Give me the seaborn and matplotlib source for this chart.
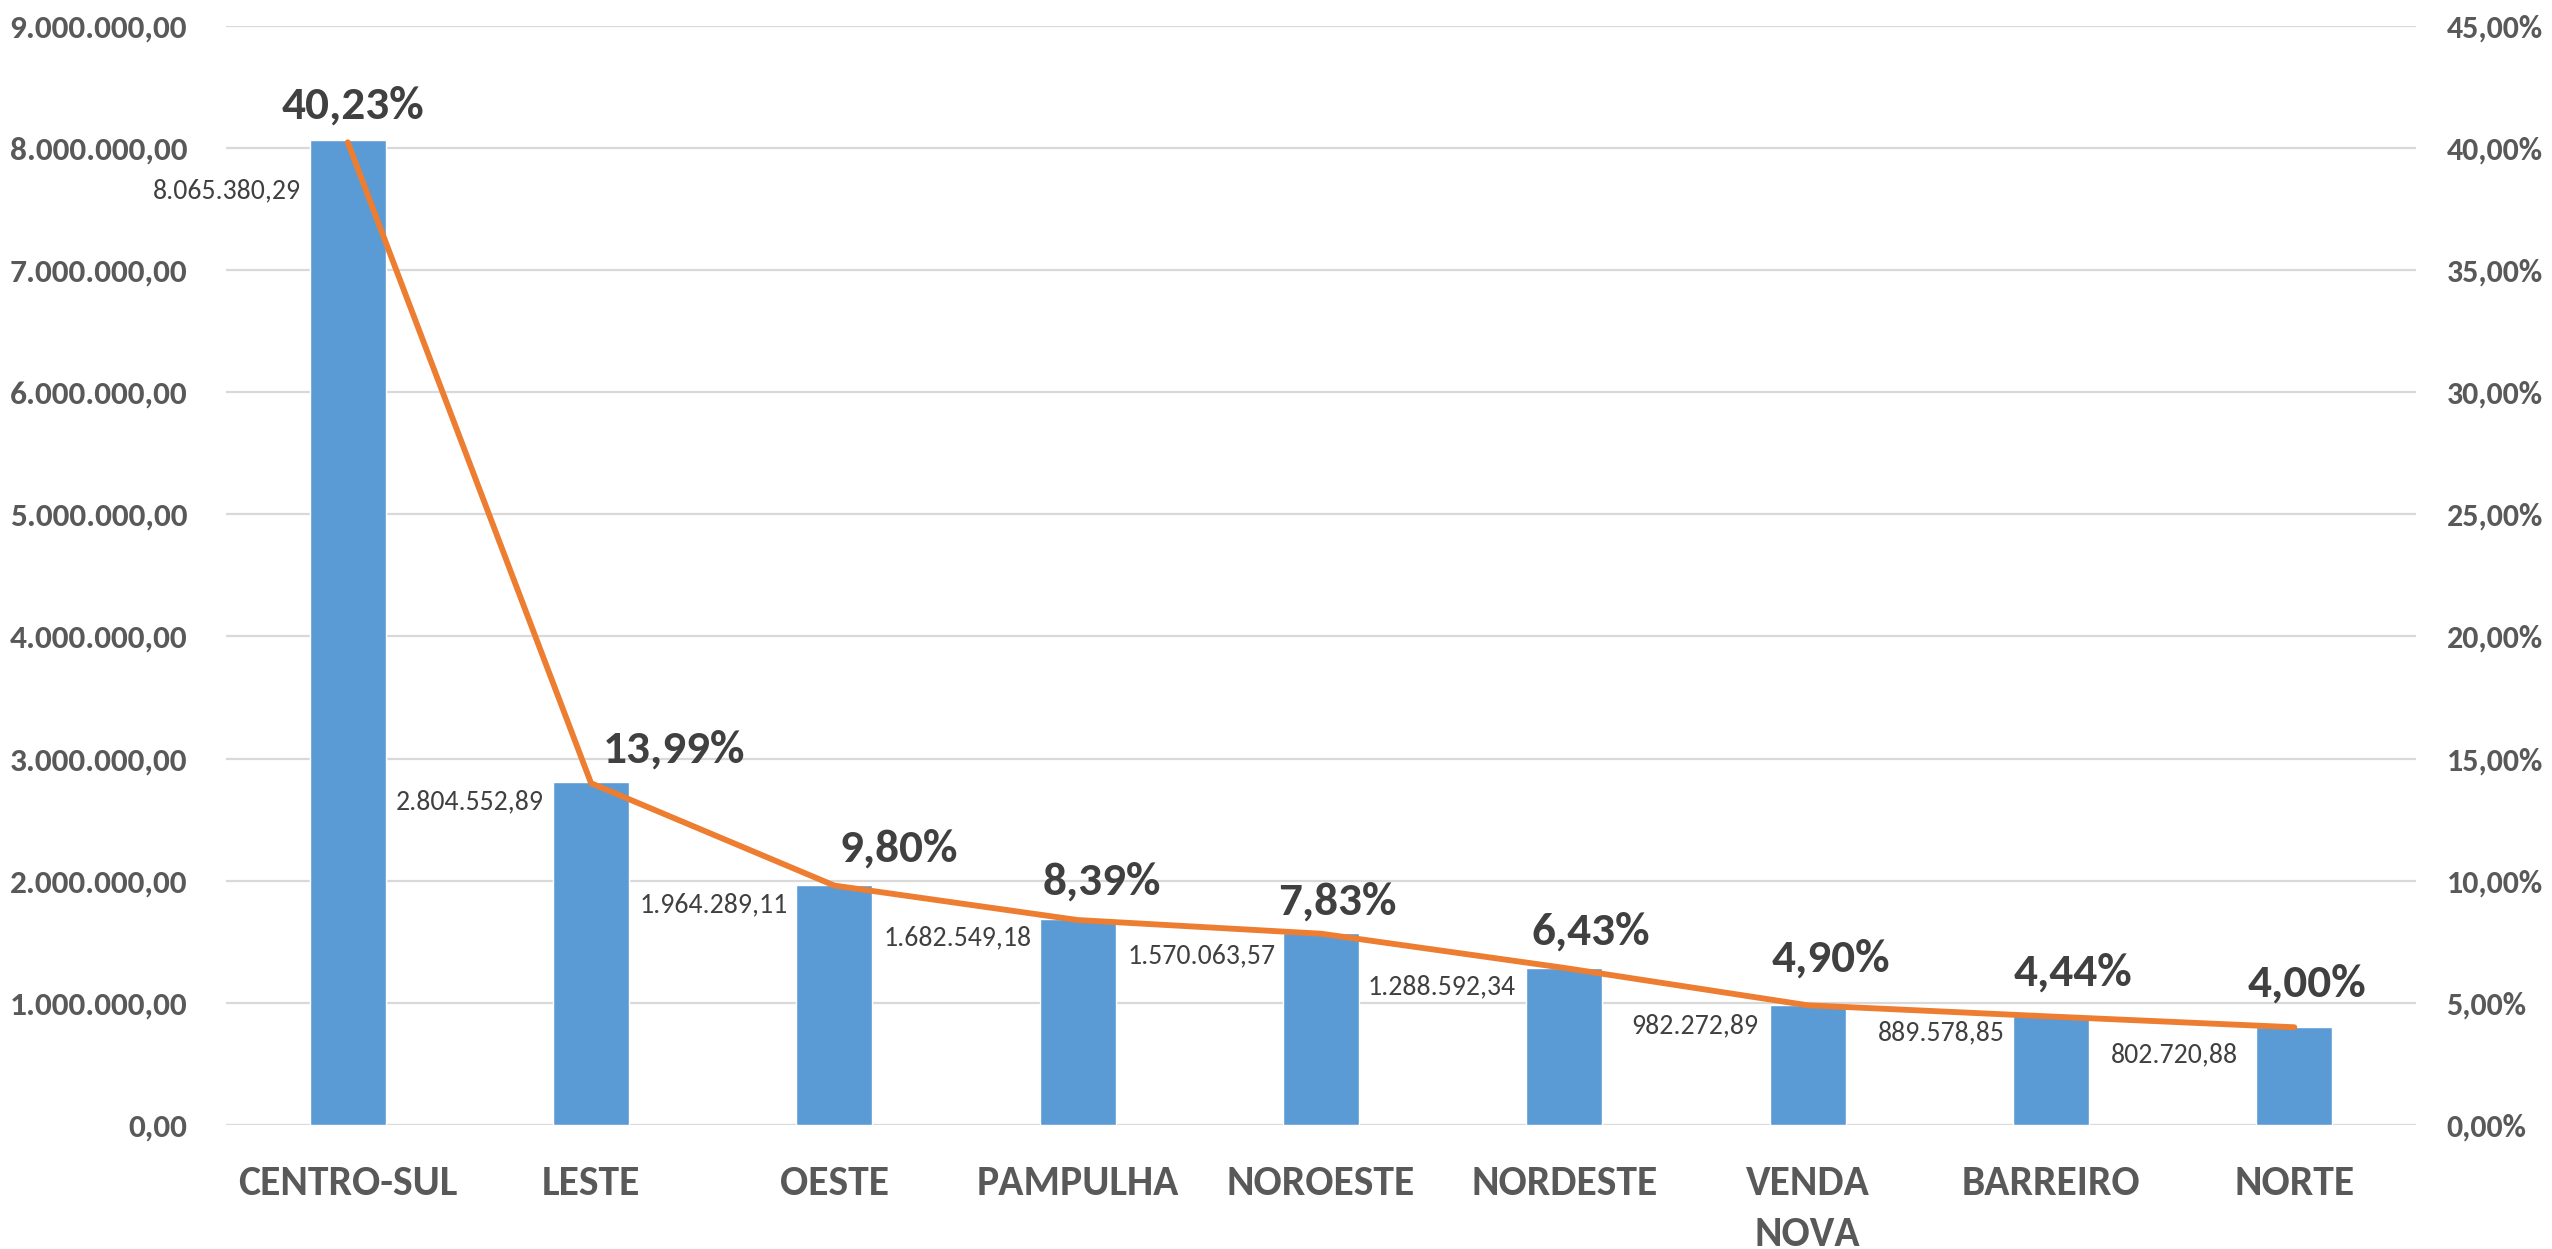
import numpy as np
import pandas as pd
import matplotlib
matplotlib.use('Agg')
import matplotlib.pyplot as plt
import seaborn as sns
from matplotlib.ticker import FuncFormatter, MultipleLocator

# Data
regioes = ['CENTRO-SUL', 'LESTE', 'OESTE', 'PAMPULHA', 'NOROESTE',
           'NORDESTE', 'VENDA NOVA', 'BARREIRO', 'NORTE']
rotulos = ['CENTRO-SUL', 'LESTE', 'OESTE', 'PAMPULHA', 'NOROESTE',
           'NORDESTE', 'VENDA\nNOVA', 'BARREIRO', 'NORTE']
valores = [8065380.29, 2804552.89, 1964289.11, 1682549.18, 1570063.57,
           1288592.34, 982272.89, 889578.85, 802720.88]
percentuais = [40.23, 13.99, 9.80, 8.39, 7.83, 6.43, 4.90, 4.44, 4.00]

# label nudges (points), the original labels were moved by hand
pct_dx = [4, 60, 46, 17, 12, 19, 17, 16, 9]
pct_dy = [17, 15, 17, 18, 14, 17, 24, 22, 22]
val_dx = [-6, -7, -6, -6, -5, -8, -8, -6, -13]
val_dy = [-37, -14, -14, -13, -16, -14, -15, -12, -20]

df = pd.DataFrame({'regiao': regioes, 'valor': valores, 'pct': percentuais})


def fmt_br(v, casas=2):
    s = f'{v:,.{casas}f}'
    return s.replace(',', 'X').replace('.', ',').replace('X', '.')


sns.set_style('white')
plt.rcParams['font.family'] = ['Carlito', 'Lato', 'DejaVu Sans']

cinza = '#595959'
escuro = '#404040'
azul = '#5B9BD5'
laranja = '#ED7D31'

fig = plt.figure(figsize=(25.52, 12.49), dpi=100)
ax = fig.add_axes([0.0886, 0.0993, 0.8581, 0.8801])

sns.barplot(data=df, x='regiao', y='valor', color=azul, width=0.313,
            saturation=1, ax=ax, zorder=2)
ax.set_ylim(0, 9000000)
ax.set_xlim(-0.5, len(regioes) - 0.5)
ax.yaxis.set_major_locator(MultipleLocator(1000000))
ax.yaxis.set_major_formatter(FuncFormatter(lambda v, p: fmt_br(v)))
ax.grid(axis='y', color='#D9D9D9', linewidth=1.6, zorder=0)
ax.set_axisbelow(True)
for s in ax.spines.values():
    s.set_visible(False)
ax.set_xlabel('')
ax.set_ylabel('')
ax.set_xticks(range(len(rotulos)))
ax.set_xticklabels(rotulos)
ax.tick_params(axis='y', length=0, pad=28, labelsize=24, labelcolor=cinza)
ax.tick_params(axis='x', length=0, pad=29, labelsize=30, labelcolor=cinza)
for t in ax.get_xticklabels() + ax.get_yticklabels():
    t.set_fontweight('bold')
for t in ax.get_xticklabels():
    t.set_linespacing(1.45)
    t.set_verticalalignment('top')

ax2 = ax.twinx()
sns.lineplot(x=list(range(len(regioes))), y=percentuais, ax=ax2,
             color=laranja, linewidth=4.2, sort=False, zorder=3)
ax2.set_ylim(0, 45)
ax2.yaxis.set_major_locator(MultipleLocator(5))
ax2.yaxis.set_major_formatter(FuncFormatter(lambda v, p: fmt_br(v) + '%'))
for s in ax2.spines.values():
    s.set_visible(False)
ax2.tick_params(axis='y', length=0, pad=22, labelsize=23, labelcolor=cinza)
for t in ax2.get_yticklabels():
    t.set_fontweight('bold')
ax2.set_ylabel('')

# value labels left of each bar
for i, v in enumerate(valores):
    ax.annotate(fmt_br(v), xy=(i - 0.1565, v), xytext=(val_dx[i], val_dy[i]),
                textcoords='offset points', ha='right', va='center',
                fontsize=20, color=escuro)

# percentage labels above line
for i, p in enumerate(percentuais):
    ax2.annotate(fmt_br(p) + '%', xy=(i, p), xytext=(pct_dx[i], pct_dy[i]),
                 textcoords='offset points', ha='center', va='baseline',
                 fontsize=34, fontweight='bold', color=escuro)

fig.savefig('out.png', dpi=100)
